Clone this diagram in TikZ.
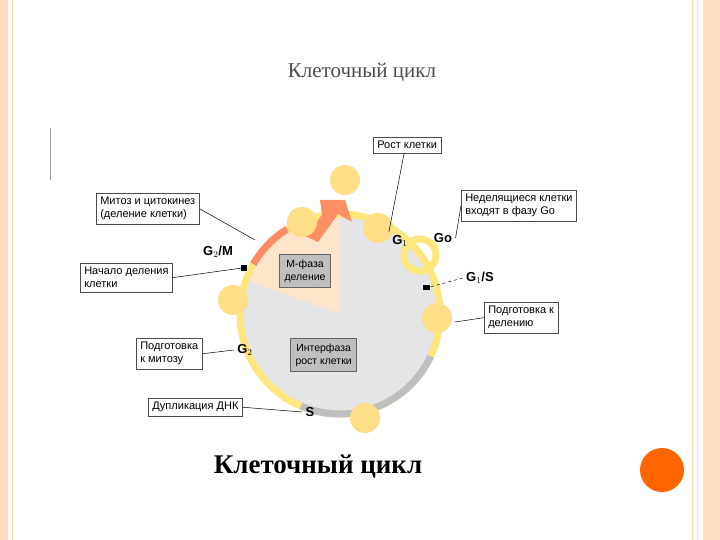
\documentclass[tikz,border=0pt]{standalone}
\usepackage{fontspec}
\setmainfont{Liberation Serif}
\newfontfamily\lab{Liberation Sans}
\begin{document}
\begin{tikzpicture}[x=1pt,y=-1pt,
  lbox/.style={draw=black!70,fill=white,line width=0.6pt,font=\lab\fontsize{11}{13}\selectfont,align=left,inner sep=4pt,anchor=north west},
  gbox/.style={draw=black!60,fill=black!25,line width=1pt,font=\lab\fontsize{10.5}{13}\selectfont,align=center,anchor=north west,inner sep=5pt},
  ph/.style={font=\lab\bfseries\fontsize{13}{15}\selectfont},
  cell/.style={circle,fill=yellow!50!orange!45,minimum size=30pt,inner sep=0pt},
  lead/.style={black,line width=0.5pt}]
\useasboundingbox (0,0) rectangle (720,540);
\fill[white] (0,0) rectangle (720,540);
\fill[orange!25] (0,0) rectangle (8,540);
\draw[orange!30,line width=0.8pt] (12,0)--(12,540);
\fill[orange!25] (703,0) rectangle (720,540);
\draw[orange!30,line width=0.8pt] (692,0)--(692,540) (697,0)--(697,540);
\fill[orange!80!red] (662,470) circle (22);
\draw[black!40] (50,128)--(50,180);
\node[font=\fontsize{21}{24}\selectfont,text=black!70] (title) at (362,72) {Клеточный цикл};
% cycle
\coordinate (c) at (340,314);
\fill[blue!5!black!10] (c) circle (100);
\fill[orange!20] (c) -- (340,214) arc[start angle=-90,end angle=-160,radius=100] -- cycle;
\draw[yellow!70!orange!50,line width=7pt] (c) circle (100);
\draw[black!25,line width=7pt] (c) ++(25:100) arc[start angle=25,end angle=113,radius=100];
\draw[yellow!70!orange!50,line width=7pt] (420,255) circle (16);
\draw[red!50!orange!60,line width=7pt] (c) ++(-150:100) arc[start angle=-150,end angle=-122,radius=100];
\fill[red!45!orange!60] (305,236)--(322,215)--(320,200)--(345,200)--(352,222)--(338,214)--(318,242)--cycle;
\foreach \p/\n in {{(345,180)}/c1,{(302,222)}/c2,{(378,228)}/c3,{(233,300)}/c4,{(437,318)}/c5,{(365,418)}/c6}
  \node[cell] (\n) at \p {};
\fill[black] (241,265) rectangle (247,271);
\fill[black] (423,285) rectangle (430,290);
\node[gbox] (m) at (279,254) {М-фаза\\деление};
\node[gbox] (i) at (290,338) {Интерфаза\\рост клетки};
\node[ph] (g1) at (400,241) {G$_1$};
\node[ph] (g0) at (443,238) {Go};
\node[ph] (g1s) at (480,278) {G$_1$/S};
\node[ph] (g2m) at (218,252) {G$_2$/M};
\node[ph] (g2) at (245,350) {G$_2$};
\node[ph] (s) at (310,412) {S};
\node[lbox] (b1) at (373,137) {Рост клетки};
\node[lbox] (b2) at (96,193) {Митоз и цитокинез\\(деление клетки)};
\node[lbox] (b3) at (461,190) {Неделящиеся клетки\\входят в фазу Go};
\node[lbox] (b4) at (80,263) {Начало деления\\клетки};
\node[lbox] (b5) at (484,302) {Подготовка к\\делению};
\node[lbox] (b6) at (136,338) {Подготовка\\к митозу};
\node[lbox] (b7) at (148,398) {Дупликация ДНК};
\coordinate (t2) at (255,240);
\coordinate (t4) at (242,268);
\coordinate (t5) at (455,322);
\draw[lead] (b1.south)++(-3,0) -- (g1.north west);
\draw[lead] (b2.east) -- (t2);
\draw[lead] (b3.west) -- (g0.east);
\draw[lead] (b4.east) -- (t4);
\draw[lead] (b5.west) -- (t5);
\draw[lead] (b6.east) -- (g2.west);
\draw[lead] (b7.east) -- (s.west);
\draw[lead,dashed] (g1s.west) -- (430,287);
\node[font=\bfseries\fontsize{27}{30}\selectfont] (cap) at (318,467) {Клеточный цикл};
\end{tikzpicture}
\end{document}
